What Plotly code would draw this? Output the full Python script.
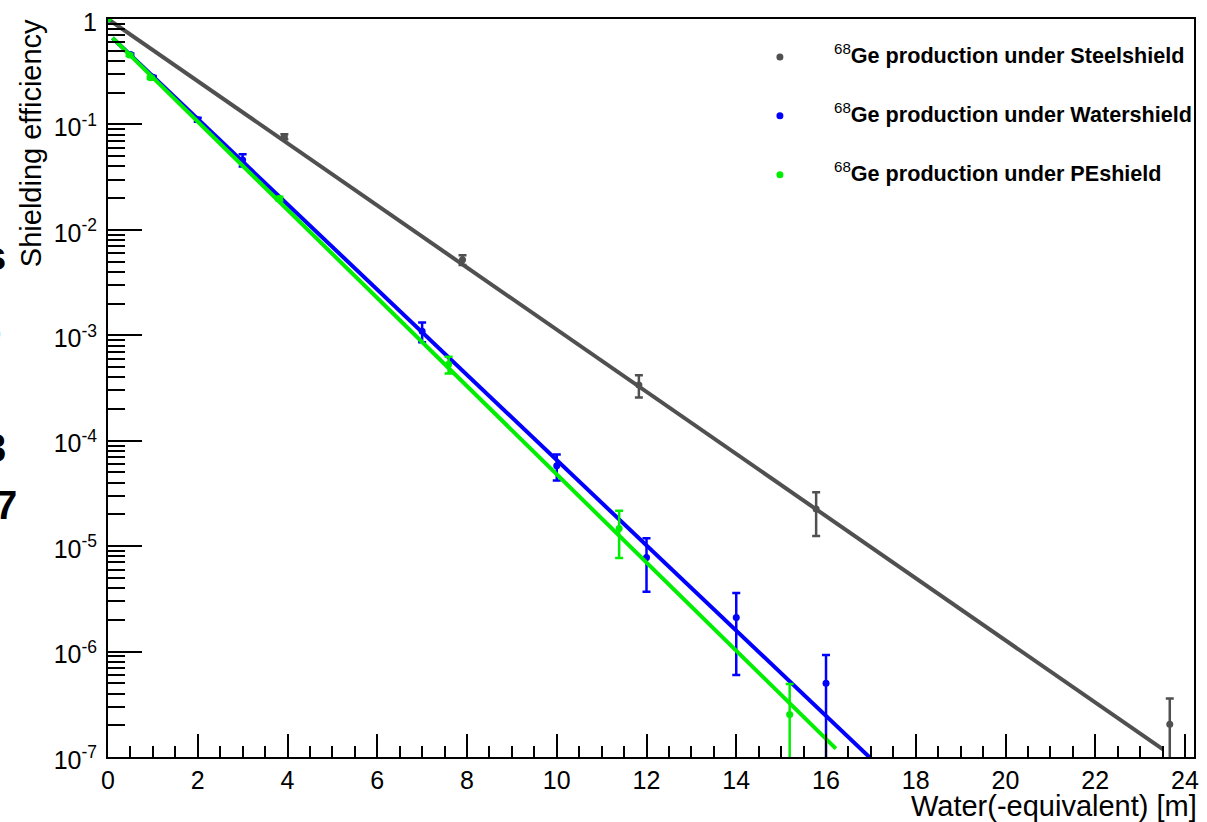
import numpy as np
import plotly.graph_objects as go

# Measured shielding efficiency vs. water-equivalent thickness
steel_x = [0.0, 3.93, 7.9, 11.83, 15.78, 23.66]
steel_y = [1.0, 0.0765, 5.2e-3, 3.37e-4, 2.25e-5, 2.05e-7]
steel_err = [0.0, 0.004, 0.55e-3, 0.8e-4, 1.0e-5, 1.53e-7]

water_x = [0.0, 0.5, 1.0, 2.0, 3.0, 7.0, 10.0, 12.0, 14.0, 16.0]
water_y = [1.0, 0.46, 0.28, 0.111, 0.046, 1.09e-3, 5.8e-5, 7.8e-6, 2.1e-6, 5.0e-7]
water_err = [0.0, 0.01, 0.008, 0.005, 0.006, 0.23e-3, 1.6e-5, 4.1e-6, 1.5e-6, 4.3e-7]

pe_x = [0.0, 0.48, 0.95, 3.82, 7.59, 11.39, 15.19]
pe_y = [1.0, 0.456, 0.277, 0.0198, 5.3e-4, 1.47e-5, 2.53e-7]
pe_err = [0.0, 0.01, 0.008, 0.0008, 0.95e-4, 7e-6, 2.4e-7]

# Exponential fits: log10(eff) = a + b * x over [x_lo, x_hi]
steel_fit = dict(a=0.0, b=-0.2947, x_lo=0.0, x_hi=23.51)
water_fit = dict(a=-0.14, b=-0.4044, x_lo=0.1, x_hi=17.0)
pe_fit = dict(a=-0.137, b=-0.4182, x_lo=0.1, x_hi=16.22)

series_names = [
    "Ge production under Steelshield",
    "Ge production under Watershield",
    "Ge production under PEshield",
]
colors = ["#505050", "#0000ff", "#00ee00"]

y_tick_vals = [1, 1e-1, 1e-2, 1e-3, 1e-4, 1e-5, 1e-6, 1e-7]
y_tick_text = ["1"] + ["10<sup>-%d</sup>" % k for k in range(1, 8)]

FONT = "Liberation Sans, Arial, Helvetica, sans-serif"

fig = go.Figure()

datasets = [
    (steel_x, steel_y, steel_err, steel_fit),
    (water_x, water_y, water_err, water_fit),
    (pe_x, pe_y, pe_err, pe_fit),
]

for (xs, ys, errs, fit), name, col in zip(datasets, series_names, colors):
    fx = np.linspace(fit["x_lo"], fit["x_hi"], 60)
    fy = 10 ** (fit["a"] + fit["b"] * fx)
    fig.add_trace(go.Scatter(
        x=xs, y=ys, mode="markers", name=name, showlegend=False,
        marker=dict(color=col, size=7),
        error_y=dict(type="data", array=errs, visible=True,
                     color=col, thickness=2.5, width=4),
    ))
    fig.add_trace(go.Scatter(
        x=fx, y=fy, mode="lines", showlegend=False, hoverinfo="skip",
        line=dict(color=col, width=4),
    ))

# Legend drawn as marker dots plus labels
legend_rows_y = [0.9486, 0.869, 0.789]
legend_marker_x = 0.6187
legend_text_x = 0.6665
for name, col, ly in zip(series_names, colors, legend_rows_y):
    fig.add_shape(type="circle", xref="paper", yref="paper",
                  xsizemode="pixel", ysizemode="pixel",
                  xanchor=legend_marker_x, yanchor=ly,
                  x0=-3.5, x1=3.5, y0=-3.5, y1=3.5,
                  fillcolor=col, line=dict(width=0))
    fig.add_annotation(
        xref="paper", yref="paper", x=legend_text_x, y=ly,
        xanchor="left", yanchor="middle", yshift=3, showarrow=False,
        text="<sup>68</sup><b>%s</b>" % name,
        font=dict(family=FONT, size=21.6, color="black"),
    )

# Axis titles
fig.add_annotation(
    xref="paper", yref="paper", x=1.0, y=-0.0635, xshift=5, yshift=-2,
    xanchor="right", yanchor="middle", showarrow=False,
    text="Water(-equivalent) [m]",
    font=dict(family=FONT, size=29, color="black"),
)
fig.add_annotation(
    xref="paper", yref="paper", x=-0.0715, y=1.003,
    xanchor="center", yanchor="top", showarrow=False, textangle=-90,
    text="Shielding efficiency",
    font=dict(family=FONT, size=29, color="black"),
)

# Neighbouring text cut by the page edge
for txt, right_px, y_px in [("s", 8, 255), ("o", 3, 330), ("3", 8, 447), ("7", 19, 504)]:
    fig.add_annotation(
        xref="paper", yref="paper",
        x=(right_px - 108) / 1091, y=(757 - y_px) / 740,
        xanchor="right", yanchor="middle", showarrow=False,
        text="<b>%s</b>" % txt,
        font=dict(family=FONT, size=40, color="black"),
    )

minor_y = [m * 10.0 ** e for e in range(-7, 0) for m in range(2, 10)]

fig.update_xaxes(
    range=[0, 24.2], tick0=0, dtick=2,
    ticks="inside", ticklen=23, tickwidth=2, tickcolor="black",
    minor=dict(dtick=0.5, ticks="inside", ticklen=11, tickwidth=2, tickcolor="black"),
    showline=True, linewidth=2, linecolor="black", mirror=True,
    showgrid=False, zeroline=False,
    tickfont=dict(family=FONT, size=25, color="black"),
    ticklabelstandoff=0,
)
fig.update_yaxes(
    type="log", range=[-7, 0],
    tickmode="array", tickvals=y_tick_vals, ticktext=y_tick_text,
    ticks="inside", ticklen=34, tickwidth=2, tickcolor="black",
    minor=dict(tickmode="array", tickvals=minor_y, ticks="inside",
               ticklen=17, tickwidth=2, tickcolor="black"),
    showline=True, linewidth=2, linecolor="black", mirror=True,
    showgrid=False, zeroline=False,
    tickfont=dict(family=FONT, size=25, color="black"),
    ticklabelstandoff=4, ticklabelshift=3,
)

fig.update_layout(
    width=1207, height=822,
    margin=dict(l=108, r=8, t=17, b=65),
    paper_bgcolor="white", plot_bgcolor="white",
    showlegend=False,
    font=dict(family=FONT, color="black"),
)

fig.write_html("out.html")
